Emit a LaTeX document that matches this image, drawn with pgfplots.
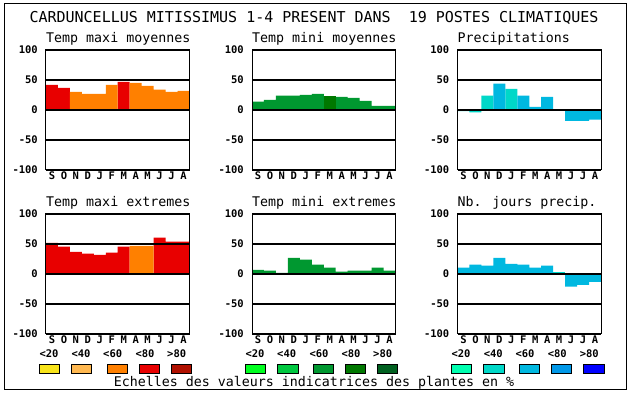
\documentclass[border=0pt]{standalone}
\usepackage{pgfplots}
\pgfplotsset{compat=1.18}
\usepackage{fontspec}
\setmainfont{DejaVu Sans Mono}
\definecolor{cy}{HTML}{F8E41A}
\definecolor{clo}{HTML}{FFB850}
\definecolor{co}{HTML}{FF8000}
\definecolor{cr}{HTML}{E80000}
\definecolor{cdr}{HTML}{B01000}
\definecolor{ga}{HTML}{00FF20}
\definecolor{gb}{HTML}{00C840}
\definecolor{gc}{HTML}{009830}
\definecolor{gd}{HTML}{007800}
\definecolor{ge}{HTML}{006020}
\definecolor{ba}{HTML}{00FFB0}
\definecolor{bb}{HTML}{00D8C8}
\definecolor{bc}{HTML}{00B8E0}
\definecolor{bd}{HTML}{0098E8}
\definecolor{be}{HTML}{0000FF}
\pgfplotsset{
  panel/.style={scale only axis, width=143.5pt, height=120pt, anchor=south west,
    xmin=0, xmax=12, ymin=-100, ymax=100,
    ytick={-100,-50,0,50,100}, yticklabels={-100,-50,0,50,100},
    xtick={0.5,1.5,2.5,3.5,4.5,5.5,6.5,7.5,8.5,9.5,10.5,11.5},
    xticklabels={S,O,N,D,J,F,M,A,M,J,J,A},
    major tick length=0pt, tick style={draw=none},
    axis on top, ymajorgrids, grid style={black, line width=1.2pt},
    axis line style={black, line width=1pt},
    ticklabel style={font=\bfseries\fontsize{10.5}{11}\selectfont},
    yticklabel style={anchor=east, inner sep=0pt, xshift=-8pt},
    xticklabel style={anchor=base, inner sep=0pt, yshift=-10pt},
  },
  bars/.style={ybar, bar width=1, bar shift=0pt, draw=none, fill=#1},
}
\newcommand{\ttl}{\fontsize{13.3}{14}\selectfont}
\newcommand{\lbl}{\bfseries\fontsize{10.5}{11}\selectfont}
\begin{document}
\begin{tikzpicture}[x=1pt,y=1pt]
\path (0,0) rectangle (630,394);
\draw[line width=1pt] (4,4) rectangle (626.5,390);
\node[anchor=base, inner sep=0pt] at (314,371) {\fontsize{15}{16}\selectfont CARDUNCELLUS MITISSIMUS 1-4 PRESENT DANS\ \ 19 POSTES CLIMATIQUES};
% Panel 1
\begin{axis}[panel, at={(46pt,224pt)}]
\addplot[bars=cr] coordinates {(0.5,42) (1.5,37) (6.5,47)};
\addplot[bars=co] coordinates {(2.5,30) (3.5,27) (4.5,27) (5.5,42) (7.5,45) (8.5,40) (9.5,34) (10.5,30) (11.5,32)};
\end{axis}
% Panel 2
\begin{axis}[panel, at={(252pt,224pt)}]
\addplot[bars=gc] coordinates {(0.5,14) (1.5,17) (2.5,24) (3.5,24) (4.5,25) (5.5,27) (7.5,22) (8.5,20) (9.5,15) (10.5,7) (11.5,7)};
\addplot[bars=gd] coordinates {(6.5,24)};
\end{axis}
% Panel 3
\begin{axis}[panel, at={(457.5pt,224pt)}]
\addplot[bars=bb] coordinates {(0.5,-2) (1.5,-4) (2.5,24) (4.5,35)};
\addplot[bars=bc] coordinates {(3.5,44) (5.5,24) (6.5,5) (7.5,22) (9.5,-18) (10.5,-18) (11.5,-16)};
\end{axis}
% Panel 4
\begin{axis}[panel, at={(46pt,60pt)}]
\addplot[bars=cr] coordinates {(0.5,52) (1.5,45.5) (2.5,37) (3.5,34) (4.5,32) (5.5,35.5) (6.5,45.5) (9.5,60.5) (10.5,54) (11.5,54)};
\addplot[bars=co] coordinates {(7.5,47) (8.5,47)};
\end{axis}
% Panel 5
\begin{axis}[panel, at={(252pt,60pt)}]
\addplot[bars=gc] coordinates {(0.5,7) (1.5,5.5) (2.5,2) (3.5,27) (4.5,24) (5.5,15.5) (6.5,10.5) (7.5,4) (8.5,5.5) (9.5,5.5) (10.5,10.5) (11.5,5.5)};
\end{axis}
% Panel 6
\begin{axis}[panel, at={(457.5pt,60pt)}]
\addplot[bars=bc] coordinates {(0.5,10.5) (1.5,15.5) (2.5,14) (3.5,27) (4.5,17) (5.5,15.5) (6.5,10.5) (7.5,14) (9.5,-21) (10.5,-18) (11.5,-13)};
\addplot[bars=bb] coordinates {(8.5,4)};
\end{axis}
% Titles
\node[anchor=base west, inner sep=0pt] at (46,351.3) {\ttl Temp maxi moyennes};
\node[anchor=base west, inner sep=0pt] at (252,351.3) {\ttl Temp mini moyennes};
\node[anchor=base west, inner sep=0pt] at (457.5,351.3) {\ttl Precipitations};
\node[anchor=base west, inner sep=0pt] at (46,187.3) {\ttl Temp maxi extremes};
\node[anchor=base west, inner sep=0pt] at (252,187.3) {\ttl Temp mini extremes};
\node[anchor=base west, inner sep=0pt] at (457.5,187.3) {\ttl Nb. jours precip.};
% Legend labels
\foreach \x/\t in {49/<20,81/<40,112.7/<60,145/<80,176.7/>80,
                   255/<20,286.7/<40,319/<60,351/<80,382.7/>80,
                   461/<20,493.3/<40,525/<60,557.3/<80,589.3/>80}
  \node[anchor=base, inner sep=0pt] at (\x,36.7) {\lbl \t};
% Legend squares
\foreach \a/\b/\c in {39.3/59.3/cy,71/91/clo,107.3/127.3/co,139.3/159.3/cr,171.7/191.7/cdr,
                      245/265.7/ga,277.3/298/gb,313/333.7/gc,345/365.7/gd,377/397.7/ge,
                      451/471.7/ba,483.3/504/bb,519/539.7/bc,551/571.7/bd,583.3/604/be}
  \draw[line width=0.9pt, fill=\c] (\a,20.3) rectangle (\b,29.7);
\node[anchor=base, inner sep=0pt] at (314,7.3) {\ttl Echelles des valeurs indicatrices des plantes en \%};
\end{tikzpicture}
\end{document}
